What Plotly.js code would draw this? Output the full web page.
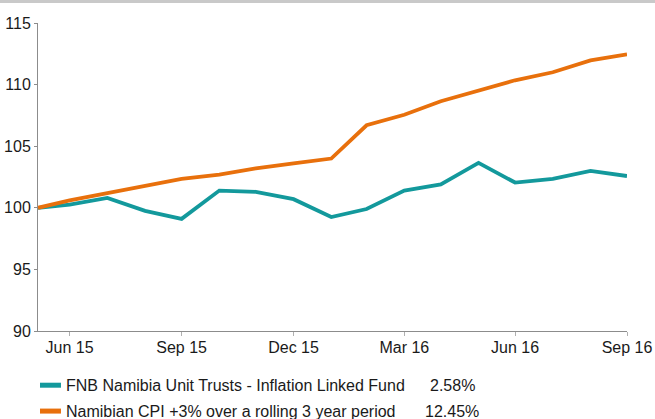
<!DOCTYPE html>
<html>
<head>
<meta charset="utf-8">
<script src="https://cdn.plot.ly/plotly-3.0.1.min.js"></script>
<style>
  html, body { margin: 0; padding: 0; background: #ffffff; }
  #wrap { position: relative; width: 655px; height: 419px; }
  #topband { position: absolute; left: 0; top: 0; width: 655px; height: 3px; background: #c9c9c9; z-index: 5; }
  #chart { position: absolute; left: 0; top: 0; width: 655px; height: 419px; }
</style>
</head>
<body>
<div id="wrap"><div id="topband"></div><div id="chart"></div></div>
<script>
// Dates of each observation
const dates = [
  "2015-06-04", "2015-06-30", "2015-07-31", "2015-08-31", "2015-09-30",
  "2015-10-31", "2015-11-30", "2015-12-31", "2016-01-31", "2016-02-29",
  "2016-03-31", "2016-04-30", "2016-05-31", "2016-06-30", "2016-07-31",
  "2016-08-31", "2016-09-30"
];

// Series values (indexed to 100)
const fundValues = [
  100.0, 100.25, 100.8, 99.75, 99.1,
  101.4, 101.3, 100.7, 99.25, 99.9,
  101.4, 101.9, 103.65, 102.05, 102.35,
  103.0, 102.58
];
const cpiValues = [
  100.0, 100.6, 101.2, 101.8, 102.35,
  102.7, 103.2, 103.6, 104.0, 106.7,
  107.55, 108.65, 109.5, 110.35, 111.0,
  111.97, 112.45
];

// Legend labels and returns
const seriesNames = [
  "FNB Namibia Unit Trusts - Inflation Linked Fund",
  "Namibian CPI +3% over a rolling 3 year period"
];
const seriesReturns = ["2.58%", "12.45%"];
const seriesColors = ["#13999c", "#e8700c"];

// Axis ticks
const xTickVals = ["2015-06-30", "2015-09-30", "2015-12-31", "2016-03-31", "2016-06-30", "2016-09-30"];
const xTickText = ["Jun 15", "Sep 15", "Dec 15", "Mar 16", "Jun 16", "Sep 16"];
const yTickVals = [90, 95, 100, 105, 110, 115];

const traces = [
  {
    x: dates, y: fundValues, type: "scatter", mode: "lines",
    name: seriesNames[0],
    line: { color: seriesColors[0], width: 3.8 }
  },
  {
    x: dates, y: cpiValues, type: "scatter", mode: "lines",
    name: seriesNames[1],
    line: { color: seriesColors[1], width: 3.8 }
  }
];

// Custom legend below the plot (paper coordinates)
const legendRowsY = [-0.176, -0.26];
const legendTextX = 0.0441;
const legendReturnX = [0.6621, 0.6531];
const annotations = [];
const shapes = [];
for (let i = 0; i < seriesNames.length; i++) {
  annotations.push({
    xref: "paper", yref: "paper", x: legendTextX, y: legendRowsY[i],
    xanchor: "left", yanchor: "middle", showarrow: false,
    text: seriesNames[i], font: { size: 16, color: "#1a1a1a" }
  });
  annotations.push({
    xref: "paper", yref: "paper", x: legendReturnX[i], y: legendRowsY[i],
    xanchor: "left", yanchor: "middle", showarrow: false,
    text: seriesReturns[i], font: { size: 16, color: "#1a1a1a" }
  });
  shapes.push({
    type: "line", xref: "paper", yref: "paper",
    x0: 0.0034, x1: 0.039, y0: legendRowsY[i], y1: legendRowsY[i],
    line: { color: seriesColors[i], width: 5 }
  });
}

const layout = {
  width: 655, height: 419,
  margin: { l: 38, r: 28, t: 23, b: 88 },
  paper_bgcolor: "#ffffff",
  plot_bgcolor: "#ffffff",
  font: { family: "Liberation Sans, Arial, sans-serif", size: 16, color: "#1a1a1a" },
  showlegend: false,
  annotations: annotations,
  shapes: shapes,
  xaxis: {
    type: "date",
    range: [dates[0], dates[dates.length - 1]],
    tickmode: "array",
    tickvals: xTickVals,
    ticktext: xTickText,
    showgrid: false,
    zeroline: false,
    showline: true,
    linecolor: "#8c8c8c",
    linewidth: 1,
    ticks: "outside",
    ticklen: 4,
    tickcolor: "#b0b0b0",
    ticklabelstandoff: -2,
    tickfont: { size: 16, color: "#1a1a1a" }
  },
  yaxis: {
    range: [90, 115],
    tickmode: "array",
    tickvals: yTickVals,
    showgrid: false,
    zeroline: false,
    showline: true,
    linecolor: "#8c8c8c",
    linewidth: 1,
    ticks: "outside",
    ticklen: 3,
    tickcolor: "#8c8c8c",
    tickfont: { size: 16, color: "#1a1a1a" }
  }
};

Plotly.newPlot("chart", traces, layout, { displayModeBar: false, staticPlot: true });
</script>
</body>
</html>
